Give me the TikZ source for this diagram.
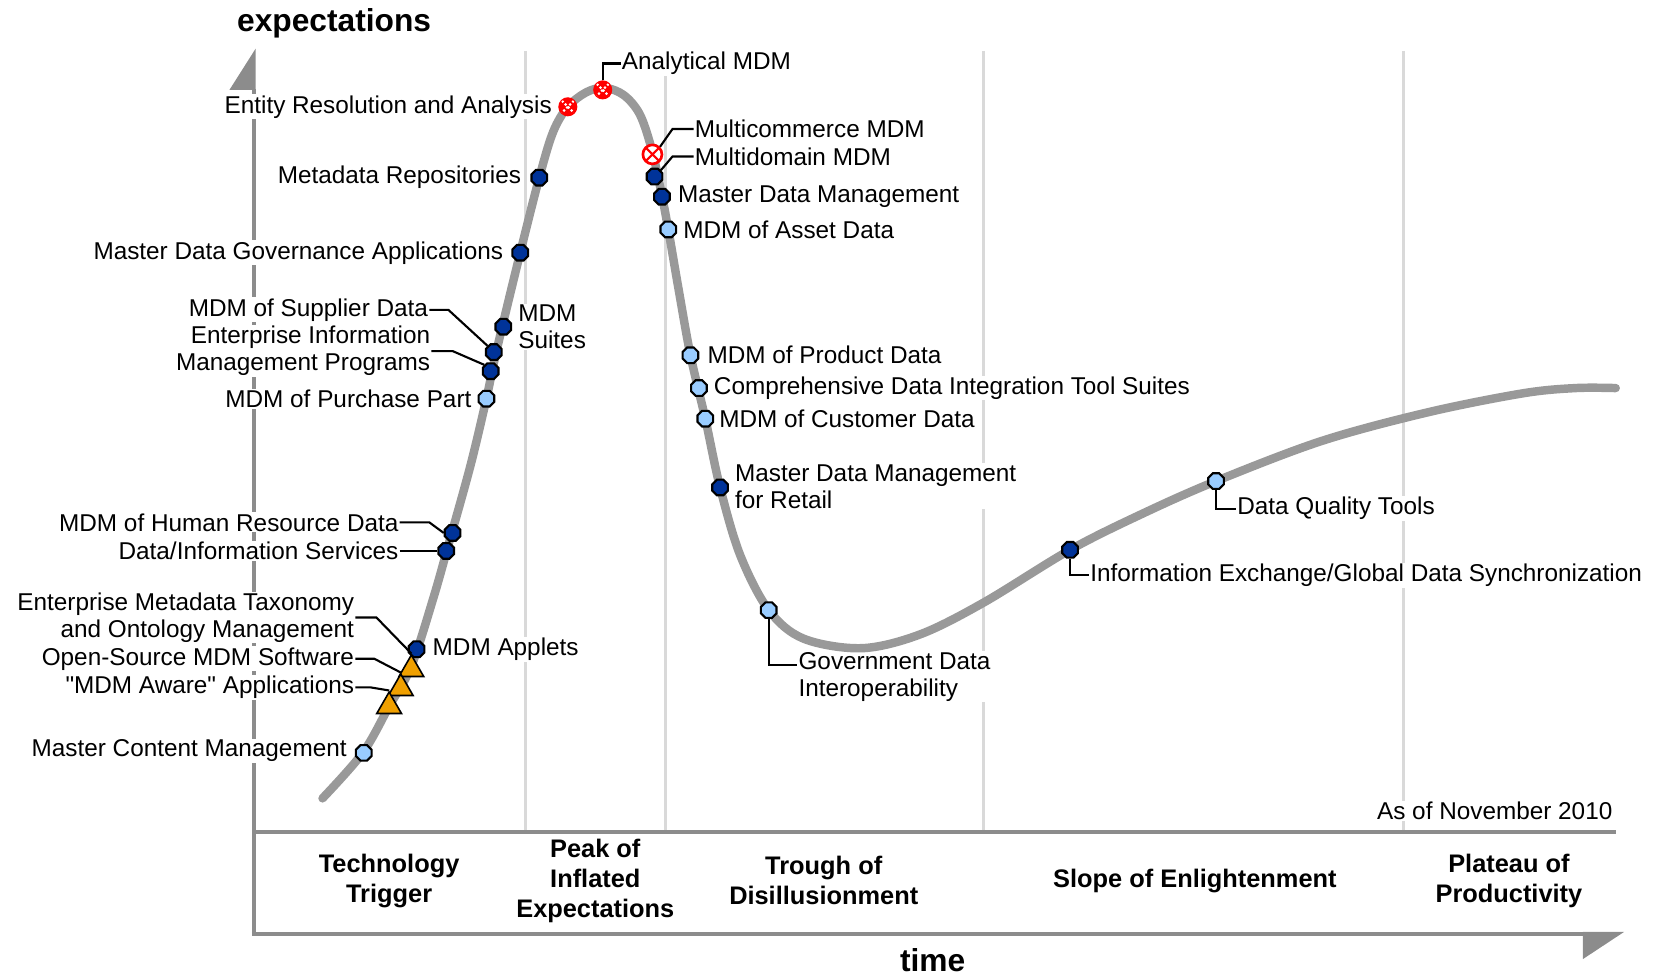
\documentclass[tikz,border=0pt]{standalone}
\usepackage{fontspec}
\setmainfont{Liberation Sans}
\newfontfamily\plainquote{Liberation Sans}
\usepackage{tikz}
\usetikzlibrary{shapes.geometric}
\definecolor{mdmdark}{HTML}{003399}
\definecolor{mdmlight}{HTML}{99CCFF}
\definecolor{mdmorange}{HTML}{F0A000}
\definecolor{hypegray}{HTML}{999999}
\definecolor{sepgray}{HTML}{D9D9D9}
\definecolor{axisgray}{HTML}{8C8C8C}

\begin{document}
\begin{tikzpicture}[x=1pt,y=-1pt]
\tikzstyle{every node}+=[inner sep=0pt]
\tikzstyle{lbl}=[font=\fontsize{23}{25.5}\selectfont, fill=white, inner sep=1pt]
\tikzstyle{phase}=[font=\bfseries\fontsize{24}{28.5}\selectfont, align=center]
\tikzstyle{axistitle}=[font=\bfseries\fontsize{30}{34}\selectfont]
\tikzstyle{sep}=[sepgray, line width=3]
\tikzstyle{axis}=[axisgray, line width=3.5]
\tikzstyle{hype}=[hypegray, line width=8, line cap=round]
\tikzstyle{leader}=[black, line width=2]
\tikzstyle{darkdot}=[regular polygon, regular polygon sides=8, minimum size=16, fill=mdmdark, draw=black, line width=2]
\tikzstyle{lightdot}=[regular polygon, regular polygon sides=8, minimum size=16, fill=mdmlight, draw=black, line width=2]
\tikzstyle{tri}=[regular polygon, regular polygon sides=3, minimum size=27, fill=mdmorange, draw=black, line width=1.5]
\tikzstyle{redmark}=[circle, minimum size=17, fill=red, draw=red, line width=1, path picture={\draw[white, line width=2, dash pattern=on 2pt off 2pt] (path picture bounding box.north west) -- (path picture bounding box.south east) (path picture bounding box.north east) -- (path picture bounding box.south west);}]
\tikzstyle{redopen}=[circle, minimum size=18, fill=white, draw=red, line width=2.5, path picture={\draw[red, line width=2] (path picture bounding box.north west) -- (path picture bounding box.south east) (path picture bounding box.north east) -- (path picture bounding box.south west);}]
\useasboundingbox (0,0) rectangle (1568,923);

\draw[sep] (497,48) -- (497,787);
\draw[sep] (629,48) -- (629,787);
\draw[sep] (930,48) -- (930,787);
\draw[sep] (1327,48) -- (1327,787);
\draw[axis] (240,883) -- (240,84);
\fill[axisgray] (241.75,46) -- (217,85) -- (241.75,85) -- cycle;
\draw[axis] (238.25,883) -- (1497,883);
\fill[axisgray] (1497,881.25) -- (1536,881.25) -- (1497,907) -- cycle;
\draw[axis] (240,787) -- (1528,787);

\node[axistitle] (ylab) at (316,22) {expectations};
\node[axistitle] (xlab) at (882,908) {time};
\node[phase] (ph1) at (368,833) {Technology\\Trigger};
\node[phase] (ph2) at (563,833) {Peak of\\Inflated\\Expectations};
\node[phase] (ph3) at (779,833) {Trough of\\Disillusionment};
\node[phase] (ph4) at (1130,833) {Slope of Enlightenment};
\node[phase] (ph5) at (1427,833) {Plateau of\\Productivity};
\node[lbl, anchor=east] (tasof) at (1526,767) {As of November 2010};

\node[lbl, anchor=east] (tent) at (523,101) {Entity Resolution and Analysis};
\node[lbl, anchor=east] (tmr) at (494,168) {Metadata Repositories};
\node[lbl, anchor=east] (tmdg) at (477,239) {Master Data Governance Applications};
\node[lbl, anchor=east] (tsup) at (406,293) {MDM of Supplier Data};
\node[lbl, anchor=east, align=right] (teim) at (408,332) {Enterprise Information\\Management Programs};
\node[lbl, anchor=east] (tpur) at (447,377) {MDM of Purchase Part};
\node[lbl, anchor=east] (thr) at (378,494) {MDM of Human Resource Data};
\node[lbl, anchor=east] (tdis) at (378,521) {Data/Information Services};
\node[lbl, anchor=east, align=right] (temt) at (336,584) {Enterprise Metadata Taxonomy\\and Ontology Management};
\node[lbl, anchor=east] (toss) at (336,623) {Open-Source MDM Software};
\node[lbl, anchor=east] (taw) at (336,650) {{\plainquote"}MDM Aware{\plainquote"} Applications};
\node[lbl, anchor=east] (tmcm) at (329,710) {Master Content Management};
\node[lbl, anchor=west] (tapp) at (408,614) {MDM Applets};
\node[lbl, anchor=west, align=left] (tsui) at (489,309) {MDM\\Suites};
\node[lbl, anchor=west] (tana) at (587,60) {Analytical MDM};
\node[lbl, anchor=west] (tmco) at (656,122) {Multicommerce MDM};
\node[lbl, anchor=west] (tmdo) at (656,148) {Multidomain MDM};
\node[lbl, anchor=west] (tmdm) at (640,186) {Master Data Management};
\node[lbl, anchor=west] (tass) at (645,217) {MDM of Asset Data};
\node[lbl, anchor=west] (tprd) at (668,336) {MDM of Product Data};
\node[lbl, anchor=west] (tcdi) at (674,367) {Comprehensive Data Integration Tool Suites};
\node[lbl, anchor=west] (tcus) at (679,396) {MDM of Customer Data};
\node[lbl, anchor=west, align=left] (tret) at (694,460) {Master Data Management\\for Retail};
\node[lbl, anchor=west, align=left] (tgov) at (754,640) {Government Data\\Interoperability};
\node[lbl, anchor=west] (tdqt) at (1169,481) {Data Quality Tools};
\node[lbl, anchor=west] (tiex) at (1030,544) {Information Exchange/Global Data Synchronization};

\draw[hype] plot[smooth, tension=0.55] coordinates {(305,755) (343,712) (368,668) (389,630) (410,565) (425,512) (445,440) (460,377) (470,330) (492,239) (510,168) (523,125) (537,101) (555,87) (572,83) (590,90) (605,108) (616,140) (625,180) (632,217) (642,275) (653,336) (667,396) (681,461) (700,525) (727,577) (760,604) (815,613) (870,600) (930,570) (1012,520) (1080,486) (1150,455) (1250,417) (1350,390) (1440,372) (1490,367) (1528,367)};

\node[redmark] (ent) at (537,101) {};
\node[redmark] (ana) at (570,85) {};
\node[redopen] (mco) at (617,146) {};
\node[darkdot] (mr) at (510,168) {};
\node[darkdot] (mdg) at (492,239) {};
\node[darkdot] (sui) at (476,309) {};
\node[darkdot] (sup) at (467,333) {};
\node[darkdot] (eim) at (464,351) {};
\node[lightdot] (pur) at (460,377) {};
\node[darkdot] (hr) at (428,504) {};
\node[darkdot] (dis) at (422,521) {};
\node[darkdot] (app) at (394,614) {};
\node[tri] (tri1) at (389,633) {};
\node[tri] (tri2) at (379,651) {};
\node[tri] (tri3) at (368,668) {};
\node[lightdot] (mcm) at (344,712) {};
\node[darkdot] (mdo) at (619,167) {};
\node[darkdot] (mdm) at (626,186) {};
\node[lightdot] (ass) at (632,217) {};
\node[lightdot] (prd) at (653,336) {};
\node[lightdot] (cdi) at (661,367) {};
\node[lightdot] (cus) at (667,396) {};
\node[darkdot] (ret) at (681,461) {};
\node[lightdot] (gov) at (727,577) {};
\node[darkdot] (iex) at (1012,520) {};
\node[lightdot] (dqt) at (1150,455) {};

\draw[leader] (ana.north) |- (tana.west);
\draw[leader] (mco.north east) -- ([xshift=-20pt]tmco.west) -- (tmco.west);
\draw[leader] (mdo.north east) -- ([xshift=-20pt]tmdo.west) -- (tmdo.west);
\draw[leader] (tsup.east) -- ([xshift=18pt]tsup.east) -- (sup.north west);
\draw[leader] (teim.east) -- ([xshift=20pt]teim.east) -- (eim.north west);
\draw[leader] (thr.east) -- ([xshift=28pt]thr.east) -- (hr.west);
\draw[leader] (tdis.east) -- (dis.west);
\draw[leader] (temt.east) -- ([xshift=20pt]temt.east) -- (tri1.north);
\draw[leader] (toss.east) -- ([xshift=18pt]toss.east) -- (tri2.north);
\draw[leader] (taw.east) -- ([xshift=14pt]taw.east) -- (tri3.north);
\draw[leader] (gov.south) |- ([yshift=-13pt]tgov.north west);
\draw[leader] (dqt.south) |- (tdqt.west);
\draw[leader] (iex.south) |- (tiex.west);
\end{tikzpicture}
\end{document}
